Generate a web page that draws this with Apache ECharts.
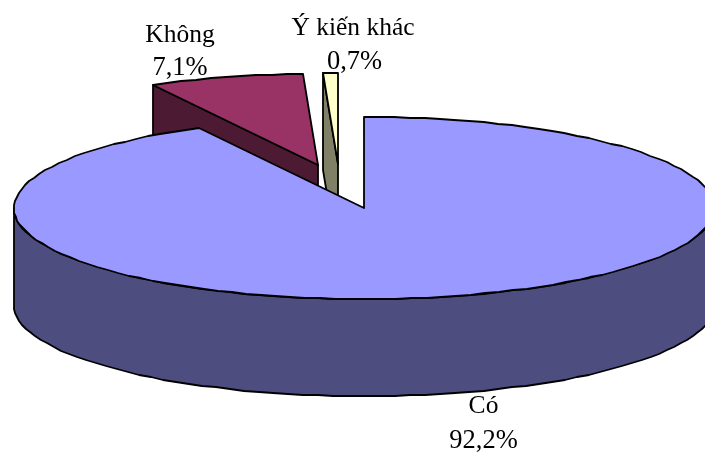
<!DOCTYPE html>
<html>
<head>
<meta charset="utf-8">
<style>html,body{margin:0;padding:0;background:#fff}#chart{width:705px;height:454px}</style>
<script src="https://cdn.jsdelivr.net/npm/echarts@6/dist/echarts.min.js"></script>
</head>
<body>
<div id="chart"></div>
<script>
// Survey answers, in percent, clockwise from twelve o'clock
const categories = ['Có', 'Không', 'Ý kiến khác'];
const shares = [92.2, 7.1, 0.7];

// Slice colours: top face, then side face
const topColors = ['#9999FF', '#993366', '#FFFFCC'];
const sideColors = ['#4D4D80', '#4D1A33', '#808066'];

// Tilted pie geometry
const pie = { cx: 364, cy: 208, rx: 350, ry: 91, depth: 97 };
const explode = [[0, 0], [-46, -43], [-26, -44]];
// Label anchors: centre of name, centre of percentage, lower edges of the two rows
const labelAt = [[483.5, 483.5, 419, 455], [180, 180, 48, 82], [353, 354.5, 41, 76]];

const chart = echarts.init(document.getElementById('chart'), null, { renderer: 'canvas' });

const rows = shares.map((v, i) => [i, shares.slice(0, i).reduce((a, b) => a + b, 0), v]);

// Point on the rim at a clockwise angle, snapped to whole pixels like a coarse plot
function rim(cx, cy, deg) {
  const t = deg * Math.PI / 180;
  return [Math.round(cx + pie.rx * Math.sin(t)), Math.round(cy - pie.ry * Math.cos(t))];
}
function arc(cx, cy, from, to) {
  const pts = [];
  const n = Math.max(1, Math.round(Math.abs(to - from) / 2.5));
  for (let k = 0; k <= n; k++) pts.push(rim(cx, cy, from + (to - from) * k / n));
  return pts;
}

function renderItem(params, api) {
  const i = api.value(0);
  const from = api.value(1) * 3.6;
  const to = from + api.value(2) * 3.6;
  const cx = pie.cx + explode[i][0];
  const cy = pie.cy + explode[i][1];
  const z2 = categories.length - i;
  const line = { stroke: '#000', lineWidth: 1.8, lineJoin: 'round' };
  const kids = [];
  const poly = (points, fill) => kids.push({
    type: 'polygon', z2, shape: { points }, style: Object.assign({ fill }, line)
  });

  // Outer wall: only the part of the rim that faces the viewer
  const wallFrom = Math.max(from, 90);
  const wallTo = Math.min(to, 270);
  if (wallTo > wallFrom) {
    const upper = arc(cx, cy, wallFrom, wallTo);
    const lower = upper.map(p => [p[0], p[1] + pie.depth]).reverse();
    poly(upper.concat(lower), sideColors[i]);
  }
  // Cut wall on the leading radius, seen on the narrow exploded slices
  if (i > 0) {
    const a = rim(cx, cy, from);
    poly([[cx, cy], a, [a[0], a[1] + pie.depth], [cx, cy + pie.depth]], sideColors[i]);
  }
  // Top face
  poly([[cx, cy]].concat(arc(cx, cy, from, to)), topColors[i]);

  // Two-line label: name and percentage
  const pct = api.value(2).toFixed(1).replace('.', ',') + '%';
  [[categories[i], 0, 25.5], [pct, 1, 26.5]].forEach(([text, row, size]) => kids.push({
    type: 'text', z2: 10,
    style: {
      text, x: labelAt[i][row], y: labelAt[i][row + 2],
      fill: '#000', fontFamily: '"Liberation Serif", serif', fontSize: size,
      textAlign: 'center', textVerticalAlign: 'bottom'
    }
  }));
  return { type: 'group', children: kids };
}

chart.setOption({
  animation: false,
  backgroundColor: '#fff',
  series: [{
    type: 'custom',
    coordinateSystem: 'none',
    clip: false,
    silent: true,
    data: rows,
    renderItem
  }]
});
</script>
</body>
</html>
